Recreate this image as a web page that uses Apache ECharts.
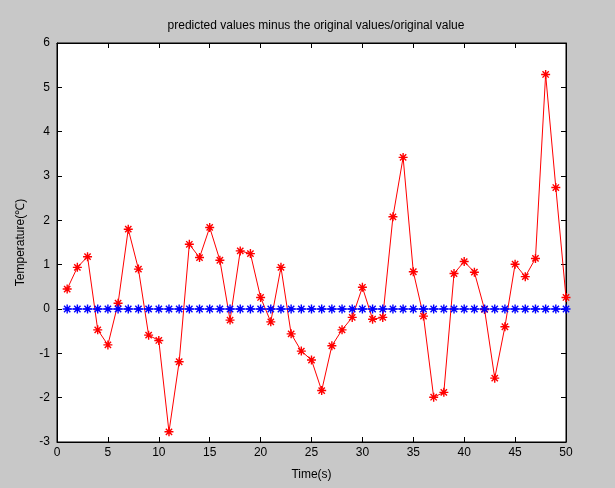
<!DOCTYPE html>
<html><head><meta charset="utf-8">
<script src="https://cdn.jsdelivr.net/npm/echarts@6/dist/echarts.min.js"></script>
<style>html,body{margin:0;padding:0;background:#c8c8c8}#c{width:615px;height:488px}</style>
</head><body><div id="c"></div>
<script>
const titleText = 'predicted values minus the original values/original value';
const xName = 'Time(s)';
const yName = 'Temperature(\u2103)';
const times = [1,2,3,4,5,6,7,8,9,10,11,12,13,14,15,16,17,18,19,20,21,22,23,24,25,26,27,28,29,30,31,32,33,34,35,36,37,38,39,40,41,42,43,44,45,46,47,48,49,50];
const predicted = [0.45,0.94,1.18,-0.47,-0.81,0.13,1.80,0.90,-0.59,-0.71,-2.77,-1.19,1.46,1.16,1.84,1.10,-0.25,1.31,1.25,0.26,-0.29,0.94,-0.56,-0.95,-1.15,-1.84,-0.83,-0.47,-0.19,0.49,-0.23,-0.19,2.08,3.42,0.84,-0.16,-1.99,-1.88,0.80,1.07,0.83,-0.01,-1.56,-0.40,1.01,0.73,1.14,5.29,2.74,0.26];
const baseline = [0,0,0,0,0,0,0,0,0,0,0,0,0,0,0,0,0,0,0,0,0,0,0,0,0,0,0,0,0,0,0,0,0,0,0,0,0,0,0,0,0,0,0,0,0,0,0,0,0,0];

const star = 'path://M0 5L10 5M5 0L5 10M1.5 1.5L8.5 8.5M8.5 1.5L1.5 8.5';
const font = 'Liberation Sans, Arial, sans-serif';
const axisCommon = {
  axisLine: {show: true, onZero: false, lineStyle: {color: '#000', width: 1}},
  axisTick: {show: true, inside: true, length: 5, lineStyle: {color: '#000'}},
  splitLine: {show: false}
};
const chart = echarts.init(document.getElementById('c'));
chart.setOption({
  backgroundColor: '#c8c8c8',
  animation: false,
  title: {text: titleText, left: 311, top: 15, textAlign: 'center',
    textStyle: {fontFamily: font, fontSize: 12, fontWeight: 'normal', color: '#000'}},
  grid: {left: 57, right: 49, top: 43, bottom: 46, show: true, backgroundColor: '#fff', borderColor: '#000', borderWidth: 1},
  xAxis: [
    Object.assign({type: 'value', min: 0, max: 50, interval: 5, position: 'bottom',
      name: xName, nameLocation: 'middle', nameGap: 27,
      nameTextStyle: {fontFamily: font, fontSize: 12, color: '#000'},
      axisLabel: {fontFamily: font, fontSize: 12, color: '#000', margin: 5}}, axisCommon),
    Object.assign({type: 'value', min: 0, max: 50, interval: 5, position: 'top',
      axisLabel: {show: false}}, axisCommon)
  ],
  yAxis: [
    Object.assign({type: 'value', min: -3, max: 6, interval: 1, position: 'left',
      name: yName, nameLocation: 'middle', nameGap: 30,
      nameTextStyle: {fontFamily: font, fontSize: 12, color: '#000'},
      axisLabel: {fontFamily: font, fontSize: 12, color: '#000', margin: 7}}, axisCommon),
    Object.assign({type: 'value', min: -3, max: 6, interval: 1, position: 'right',
      axisLabel: {show: false}}, axisCommon)
  ],
  series: [
    {type: 'line', data: times.map((t, i) => [t, predicted[i]]),
      symbol: star, symbolSize: 9, showAllSymbol: true,
      lineStyle: {color: '#ff0000', width: 1},
      itemStyle: {color: 'none', borderColor: '#ff0000', borderWidth: 1.4}},
    {type: 'line', data: times.map((t, i) => [t, baseline[i]]),
      symbol: star, symbolSize: 9, showAllSymbol: true,
      lineStyle: {color: '#0000ff', width: 1},
      itemStyle: {color: 'none', borderColor: '#0000ff', borderWidth: 1.4}}
  ]
});
</script></body></html>
